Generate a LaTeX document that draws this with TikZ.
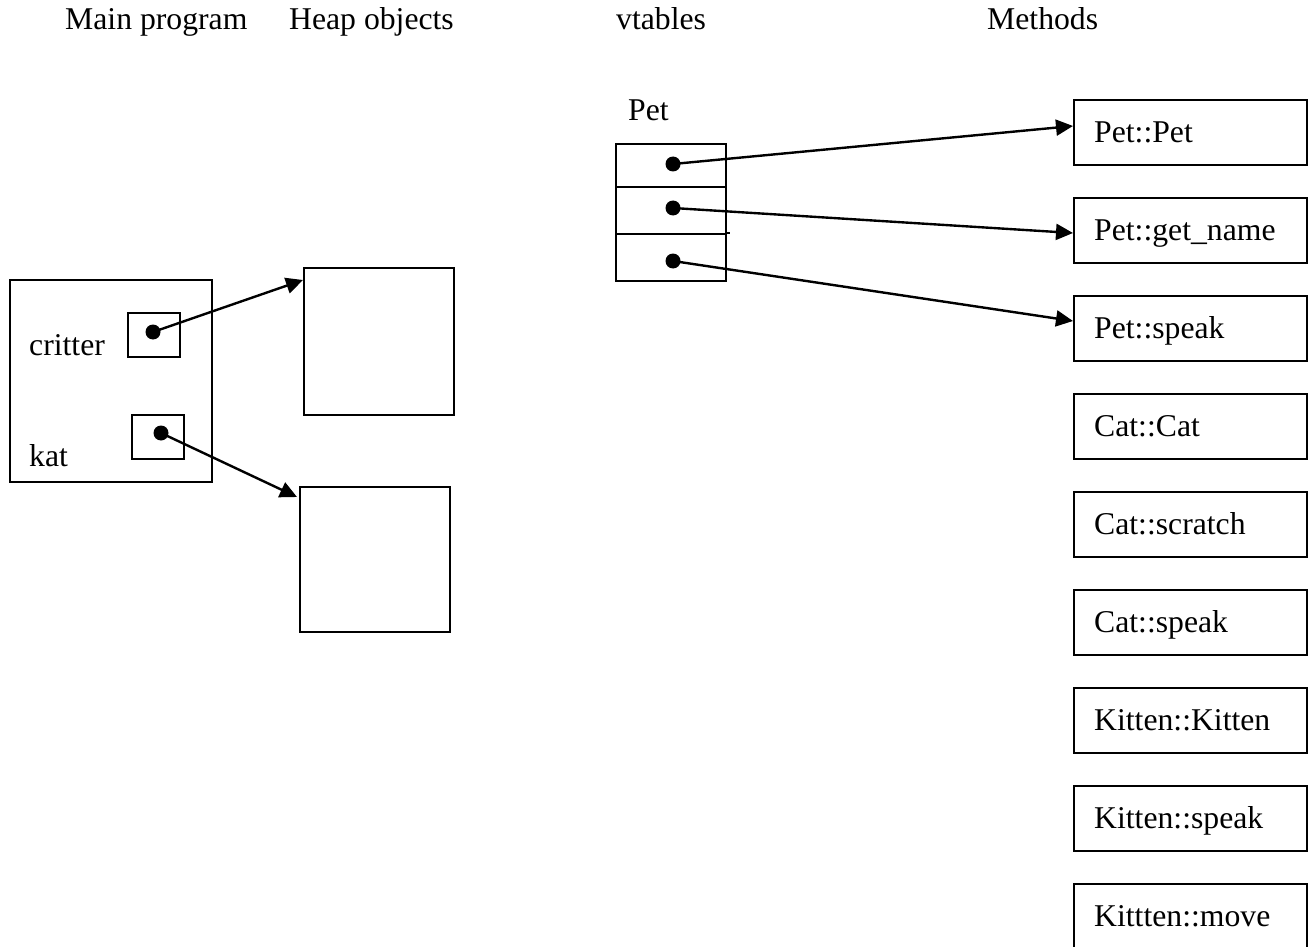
\documentclass[tikz,border=0pt]{standalone}
\usepackage{fontspec}
\setmainfont{Liberation Serif}
\usetikzlibrary{arrows.meta}
\begin{document}
\begin{tikzpicture}[x=1pt,y=-1pt,
  every node/.style={font=\fontsize{31.7}{38}\selectfont},
  lbl/.style={anchor=base west,inner sep=0pt},
  box/.style={draw,line width=2.4pt,anchor=north west,inner sep=0pt},
  meth/.style={box,minimum width=233pt,minimum height=65pt,text width=193pt,align=left,inner xsep=20pt,text height=24pt,text depth=4pt},
  dot/.style={circle,fill=black,minimum size=15pt,inner sep=0pt},
  ptr/.style={line width=2.4pt,-{Triangle[length=17pt,width=16pt]}}]
\useasboundingbox (0,0) rectangle (1310,947);
% headers
\node[lbl] (hmain) at (65,30) {Main program};
\node[lbl] (hheap) at (289,30) {Heap objects};
\node[lbl] (hvt) at (616,30) {vtables};
\node[lbl] (hmeth) at (987,30) {Methods};
% main program
\node[box,minimum width=202pt,minimum height=202pt] (main) at (9,279) {};
\node[lbl] (lcritter) at (29,355) {critter};
\node[lbl] (lkat) at (29,466) {kat};
\node[box,minimum width=52pt,minimum height=44pt] (cbox) at (127,312) {};
\node[box,minimum width=52pt,minimum height=44pt] (kbox) at (131,414) {};
% heap objects
\node[box,minimum width=150pt,minimum height=147pt] (heap1) at (303,267) {};
\node[box,minimum width=150pt,minimum height=145pt] (heap2) at (299,486) {};
% vtable
\node[lbl] (lpet) at (628,121) {Pet};
\node[box,minimum width=110pt,minimum height=43pt] (row1) at (615,143) {};
\node[box,minimum width=110pt,minimum height=47pt] (row2) at (615,186) {};
\node[box,minimum width=110pt,minimum height=47pt] (row3) at (615,233) {};
\draw[line width=2.4pt] (row3.north east) -- ([xshift=3pt]row3.north east);
% methods
\node[meth] (m0) at (1073,99) {Pet::Pet};
\node[meth] (m1) at (1073,197) {Pet::get\_name};
\node[meth] (m2) at (1073,295) {Pet::speak};
\node[meth] (m3) at (1073,393) {Cat::Cat};
\node[meth] (m4) at (1073,491) {Cat::scratch};
\node[meth] (m5) at (1073,589) {Cat::speak};
\node[meth] (m6) at (1073,687) {Kitten::Kitten};
\node[meth] (m7) at (1073,785) {Kitten::speak};
\node[meth] (m8) at (1073,883) {Kittten::move};
% dots
\node[dot] (d1) at (153,332) {};
\node[dot] (d2) at (161,433) {};
\node[dot] (v1) at (673,164) {};
\node[dot] (v2) at (673,208) {};
\node[dot] (v3) at (673,261) {};
% pointers
\draw[ptr] (d1.center) -- ([yshift=-13pt]heap1.north west);
\draw[ptr] (d2.center) -- ([xshift=-2pt,yshift=-11pt]heap2.north west);
\draw[ptr] (v1.center) -- ([yshift=-27pt]m0.north west);
\draw[ptr] (v2.center) -- ([yshift=-36pt]m1.north west);
\draw[ptr] (v3.center) -- ([yshift=-26pt]m2.north west);
\end{tikzpicture}
\end{document}
